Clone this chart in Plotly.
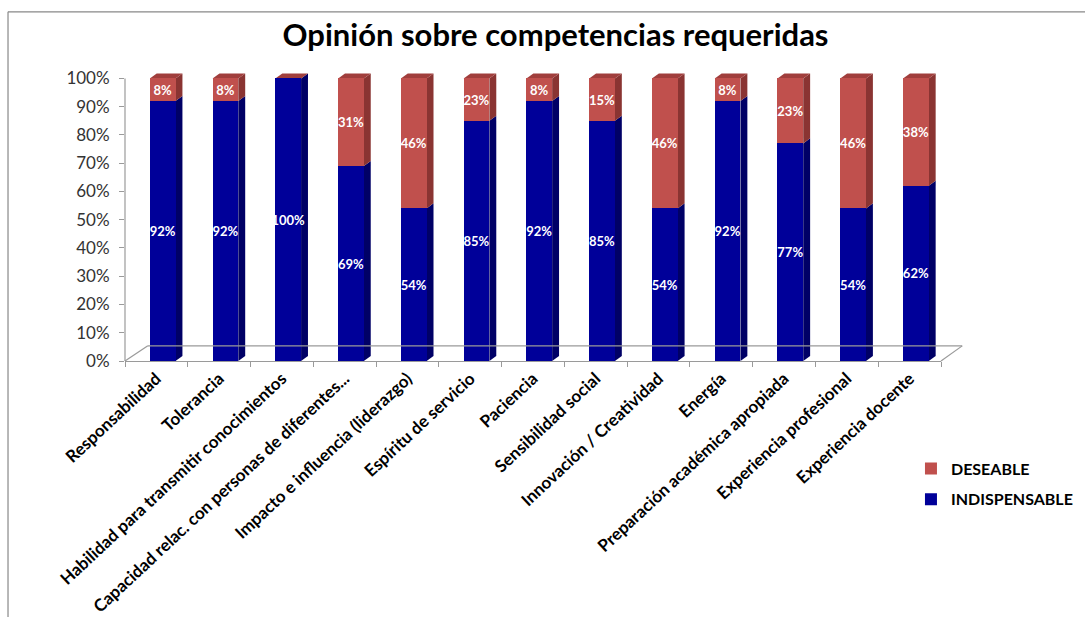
import plotly.graph_objects as go

categories = [
    "Responsabilidad", "Tolerancia", "Habilidad para transmitir conocimientos",
    "Capacidad relac. con personas de diferentes...", "Impacto e influencia (liderazgo)",
    "Espíritu de servicio", "Paciencia", "Sensibilidad social",
    "Innovación / Creatividad", "Energía", "Preparación académica apropiada",
    "Experiencia profesional", "Experiencia docente",
]
# bar heights as drawn in the picture
indispensable = [92, 92, 100, 69, 54, 85, 92, 85, 54, 92, 77, 54, 62]
deseable = [8, 8, 0, 31, 46, 15, 8, 15, 46, 8, 23, 46, 38]
# percentages printed on the bars
indispensable_labels = [92, 92, 100, 69, 54, 85, 92, 85, 54, 92, 77, 54, 62]
deseable_labels = [8, 8, 0, 31, 46, 23, 8, 15, 46, 8, 23, 46, 38]
ytick_vals = [0, 10, 20, 30, 40, 50, 60, 70, 80, 90, 100]
ytick_text = [f"{v}%" for v in ytick_vals]

BLUE, BLUE_SIDE = "#000099", "#000066"
RED, RED_SIDE, RED_TOP = "#C0504D", "#8A3432", "#A03E3C"

W = 0.41      # front face width (category units)
OFF = -0.105  # front face offset from category center
DX = 0.11     # depth in x
DY = 1.8      # depth in y (%)

xs = list(range(len(categories)))

def labels(vals):
    return [f"{v}%" if v > 0 else "" for v in vals]

LBL = dict(color="white", size=13, family="Lato", weight="bold")

fig = go.Figure()
fig.add_trace(go.Bar(
    x=xs, y=indispensable, name="INDISPENSABLE", marker_color=BLUE,
    marker_line_width=0, width=W, offset=OFF,
    text=labels(indispensable_labels), textposition="inside", insidetextanchor="middle",
    textangle=0, constraintext="none", textfont=LBL,
    legendgroup="b", legendrank=2,
))
fig.add_trace(go.Bar(
    x=xs, y=deseable, name="DESEABLE", marker_color=RED,
    marker_line_width=0, width=W, offset=OFF,
    text=labels(deseable_labels), textposition="inside", insidetextanchor="middle",
    textangle=0, constraintext="none", textfont=LBL,
    legendgroup="a", legendrank=1,
))

shapes = []
for i, (b, r) in enumerate(zip(indispensable, deseable)):
    xr = i + OFF + W
    xl = i + OFF
    shapes.append(dict(type="path", xref="x", yref="y", layer="below",
                       path=f"M{xr},0 L{xr+DX},{DY} L{xr+DX},{b+DY} L{xr},{b} Z",
                       fillcolor=BLUE_SIDE, line_width=0))
    top = b
    if r > 0:
        shapes.append(dict(type="path", xref="x", yref="y", layer="below",
                           path=f"M{xr},{b} L{xr+DX},{b+DY} L{xr+DX},{b+r+DY} L{xr},{b+r} Z",
                           fillcolor=RED_SIDE, line_width=0))
        top = b + r
    shapes.append(dict(type="path", xref="x", yref="y", layer="below",
                       path=f"M{xl},{top} L{xl+DX},{top+DY} L{xr+DX},{top+DY} L{xr},{top} Z",
                       fillcolor=RED_TOP, line_width=0))

GRAY = "#9a9a9a"
fl_y = 0.052
shapes += [
    dict(type="line", xref="x domain", yref="paper", x0=0.028, y0=fl_y, x1=1.026, y1=fl_y,
         line=dict(color=GRAY, width=1.2)),
    dict(type="line", xref="x domain", yref="paper", x0=0, y0=0, x1=0.028, y1=fl_y,
         line=dict(color=GRAY, width=1.2)),
    dict(type="line", xref="x domain", yref="paper", x0=1, y0=0, x1=1.026, y1=fl_y,
         line=dict(color=GRAY, width=1.2)),
    dict(type="line", xref="x domain", yref="y", x0=0, y0=0, x1=0, y1=100,
         line=dict(color=GRAY, width=1.2)),
    # chart frame
    dict(type="line", xref="paper", yref="paper", x0=-0.1225, y0=1.2, x1=1.2, y1=1.2,
         line=dict(color="#888888", width=1.2)),
    dict(type="line", xref="paper", yref="paper", x0=-0.1225, y0=1.2, x1=-0.1225, y1=-0.9,
         line=dict(color="#888888", width=1.2)),
]

fig.update_layout(
    width=1085, height=617,
    margin=dict(l=125, r=5, t=69.5, b=256, pad=0, autoexpand=False),
    barmode="stack",
    paper_bgcolor="white", plot_bgcolor="white",
    title=dict(text="Opinión sobre competencias requeridas", x=0.512, xanchor="center",
               xref="container", y=0.943, yanchor="middle",
               font=dict(family="Lato", size=31, color="black", weight="bold")),
    font=dict(family="Lato", color="black"),
    showlegend=True,
    legend=dict(x=0.823, xanchor="left", y=-0.311, yanchor="top",
                traceorder="grouped", tracegroupgap=7,
                font=dict(size=16, color="black", weight="bold"),
                itemwidth=30, bgcolor="rgba(0,0,0,0)"),
    shapes=shapes,
    xaxis=dict(domain=[0, 816 / 955], range=[-0.5, len(categories) - 0.5],
               tickvals=xs, ticktext=categories,
               tickangle=-43, ticks="", showgrid=False, zeroline=False,
               showline=True, linecolor=GRAY, linewidth=1.2,
               tickfont=dict(size=17, color="black", weight="bold"),
               minor=dict(tickvals=[i - 0.5 for i in range(len(categories) + 1)],
                          ticks="outside", ticklen=5, tickcolor=GRAY, showgrid=False)),
    yaxis=dict(range=[0, 103], tickvals=ytick_vals, ticktext=ytick_text,
               ticks="outside", ticklen=5, tickcolor=GRAY, showgrid=False,
               zeroline=False, showline=False, ticklabelstandoff=6,
               tickfont=dict(size=17, color="#333333")),
)

fig.write_html("out.html")
